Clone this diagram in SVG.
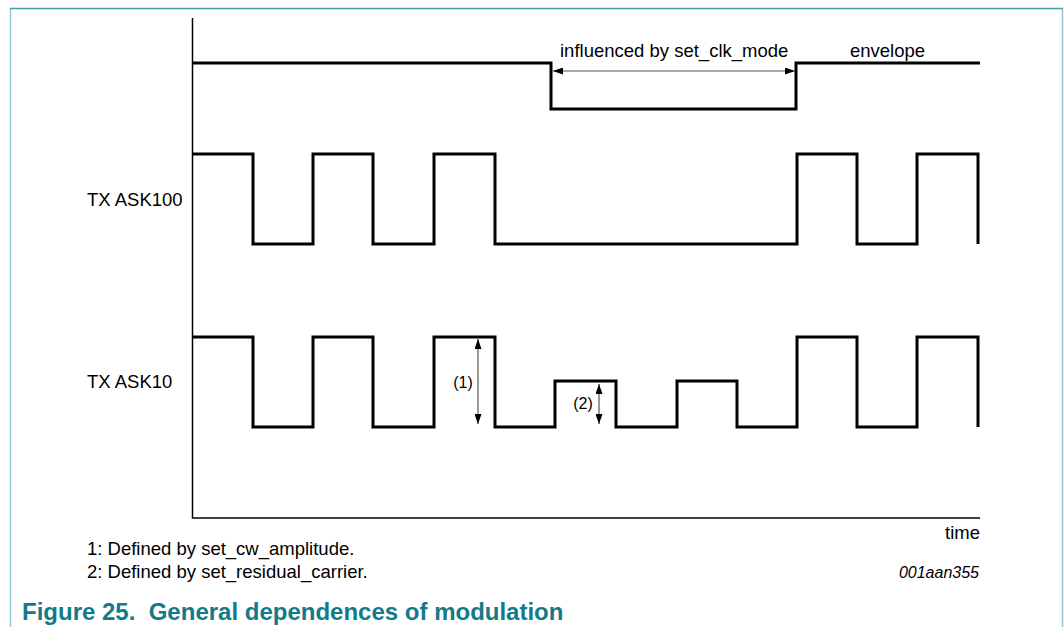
<svg xmlns="http://www.w3.org/2000/svg" width="1064" height="627" viewBox="0 0 1064 627">
<style>
  .wave { fill: none; stroke: #000; stroke-width: 3; stroke-linejoin: miter; stroke-linecap: butt; }
  .axis { fill: none; stroke: #000; stroke-width: 1.5; }
  .dim { fill: none; stroke: #555; stroke-width: 1.2; }
  .t { font-family: "Liberation Sans", Arial, sans-serif; font-size: 18.5px; fill: #000; }
  .s { font-family: "Liberation Sans", Arial, sans-serif; font-size: 16px; fill: #000; }
  .code { font-family: "Liberation Sans", Arial, sans-serif; font-size: 16px; font-style: italic; fill: #000; }
  .title { font-family: "Liberation Sans", Arial, sans-serif; font-size: 24px; font-weight: bold; fill: #127a88; }
</style>
<defs>
  <marker id="ah" viewBox="0 0 10 7" refX="10" refY="3.5" markerWidth="10" markerHeight="7" markerUnits="userSpaceOnUse" orient="auto-start-reverse">
    <path d="M0,0 L10,3.5 L0,7 Z" fill="#000"/>
  </marker>
</defs>
<rect width="1064" height="627" fill="#fff"/>
<g id="frame">
  <path d="M10.5,627 V8.5 M1062.5,8.5 V627" fill="none" stroke="#8fc6cf" stroke-width="1.5"/>
  <path d="M10,8.5 H1063" fill="none" stroke="#3f9eae" stroke-width="1.5"/>
</g>
<g id="axes">
  <path class="axis" d="M192.5,18 V518 H980"/>
  <text class="t" x="980" y="539" text-anchor="end">time</text>
</g>
<g id="envelope">
  <path class="wave" d="M192,63 H551 V109 H796 V63 H980"/>
  <text class="t" x="560" y="57">influenced by set_clk_mode</text>
  <text class="t" x="850" y="57">envelope</text>
</g>
<g id="tx-ask100">
  <text class="t" x="87" y="206">TX ASK100</text>
  <path class="wave" d="M192,154 H253 V244 H313 V154 H373 V244 H434 V154 H495 V244 H797 V154 H857 V244 H917 V154 H978 V244"/>
</g>
<g id="tx-ask10">
  <text class="t" x="87" y="388">TX ASK10</text>
  <path class="wave" d="M192,337 H253 V427 H313 V337 H373 V427 H434 V337 H495 V427 H555 V381 H616 V427 H677 V381 H737 V427 H797 V337 H857 V427 H917 V337 H978 V427"/>
  <text class="s" x="463" y="388" text-anchor="middle">(1)</text>
  <text class="s" x="583" y="409" text-anchor="middle">(2)</text>
</g>
<g id="connectors">
  <line class="dim" x1="553" y1="71" x2="795" y2="71" marker-start="url(#ah)" marker-end="url(#ah)"/>
  <line class="dim" x1="478" y1="339" x2="478" y2="424" marker-start="url(#ah)" marker-end="url(#ah)"/>
  <line class="dim" x1="599" y1="384" x2="599" y2="424" marker-start="url(#ah)" marker-end="url(#ah)"/>
</g>
<g id="notes">
  <text class="t" x="87" y="555">1: Defined by set_cw_amplitude.</text>
  <text class="t" x="87" y="578">2: Defined by set_residual_carrier.</text>
  <text class="code" x="979" y="578" text-anchor="end">001aan355</text>
</g>
<g id="caption">
  <text class="title" x="22" y="620" xml:space="preserve">Figure 25.  General dependences of modulation</text>
</g>
</svg>
